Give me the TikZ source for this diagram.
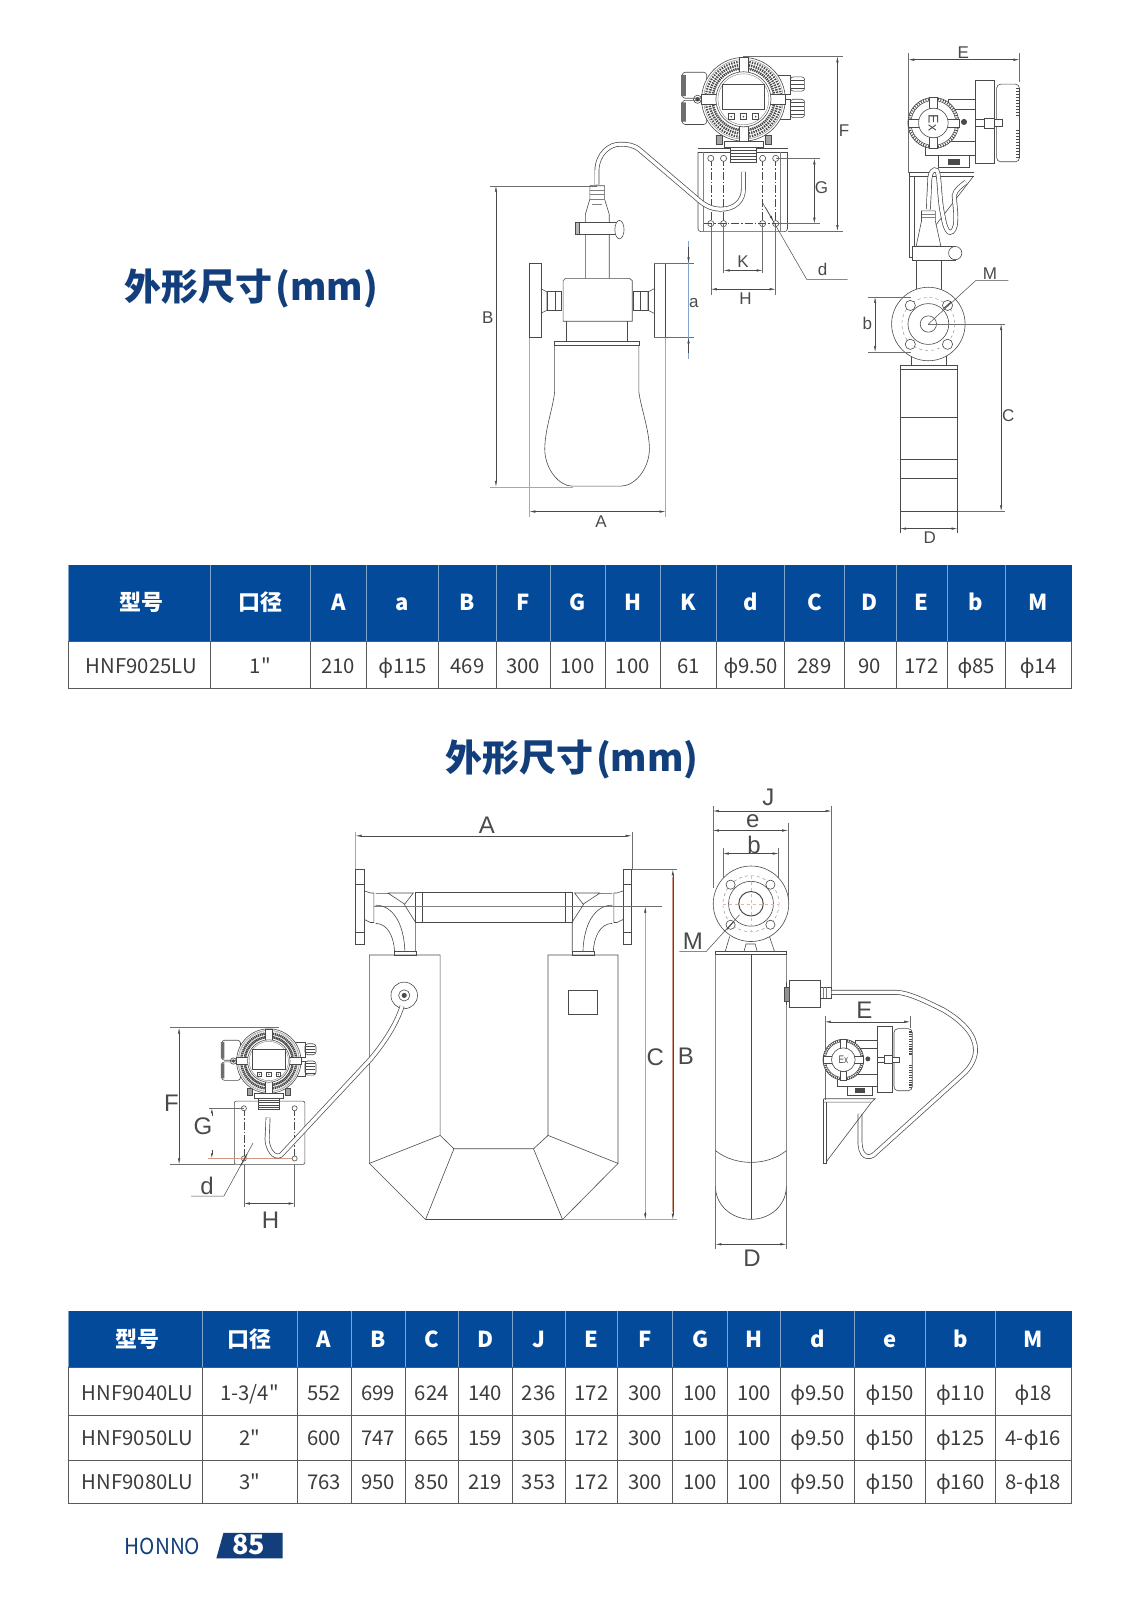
\documentclass[tikz,border=0pt]{standalone}
\usepackage{fontspec}
\setmainfont[Ligatures=TeXOff]{Noto Sans CJK SC}
\newfontfamily\arialfont{Liberation Sans}
\newfontfamily\grkfont{Noto Sans}
\usetikzlibrary{arrows.meta}
\definecolor{linecol}{HTML}{4A4A4A}
\definecolor{extcol}{HTML}{D29A84}
\definecolor{headblue}{HTML}{034A9B}
\definecolor{titleblue}{HTML}{123F7C}
\definecolor{cellcol}{HTML}{3C3C3C}
\definecolor{gridcol}{HTML}{5A5A5A}
\newcommand{\phic}{{\grkfont ϕ}}
\tikzset{
  outl/.style={draw=linecol, line width=0.6pt},
  thinl/.style={draw=linecol!70, line width=0.4pt},
  extl/.style={draw=extcol, line width=0.5pt},
  dimext/.style={draw=linecol!80, line width=0.4pt},
  dimln/.style={draw=linecol, line width=0.5pt, <->, >={Latex[length=6pt,width=2.4pt]}},
  centl/.style={draw=linecol, line width=0.4pt, dash pattern=on 8pt off 2pt on 1.5pt off 2pt},
  cablel/.style={draw=linecol, line width=0.7pt, double=white, double distance=3.4pt},
  smalllab/.style={font=\arialfont\fontsize{17}{18}\selectfont, text=linecol, inner sep=0pt},
  biglab/.style={font=\arialfont\fontsize{24}{26}\selectfont, text=linecol, inner sep=0pt},
  titlelab/.style={font=\bfseries\fontsize{37}{40}\selectfont, text=titleblue, inner sep=0pt},
  headlab/.style={font=\bfseries\fontsize{22}{26}\selectfont, text=white, inner sep=0pt, anchor=base},
  celllab/.style={font=\fontsize{20.3}{24}\selectfont, text=cellcol, inner sep=0pt, anchor=base},
  transfront/.pic={
    % cover boxes and glands behind the head
    \draw[outl,fill=white,rounded corners=3pt] (-60,-26.5) rectangle (-36,-1);
    \draw[outl,fill=white,rounded corners=3pt] (-60,1) rectangle (-36,24.7);
    \fill[linecol!80] (-61,-24) rectangle (-56.5,-3) (-61,3) rectangle (-56.5,22);
    \draw[outl,fill=white] (34,-24) rectangle (46,-5) (34,0) rectangle (46,20);
    \foreach \gy in {-19,-15,-11,3,7,11,15}
      \draw[outl] (47,\gy) -- (59,\gy);
    \draw[outl,rounded corners=3pt] (46,-22) rectangle (60,-8) (46,0) rectangle (60,18);
    % neck under the head
    \draw[outl,fill=linecol!50] (-27,35) rectangle (-21,44) (21,35) rectangle (27,44);
    \draw[outl,fill=white] (-19,41) rectangle (19,47);
    \draw[outl,fill=white] (-13,47) rectangle (13,62);
    \foreach \gy in {50,53,56,59} \draw[outl] (-13,\gy) -- (13,\gy);
    % head with its ring of fins
    \draw[outl,fill=white] (0,0) circle (41);
    \draw[thinl] (0,0) circle (39);
    \foreach \ang in {0,4,...,356}
      \draw[draw=linecol, line width=1.4pt, dash pattern=on 2.5pt off 1pt] (\ang:29) -- (\ang:38);
    \foreach \ang in {0,90,180,270}
      \draw[outl,fill=white,rotate=\ang] (25,-4.5) rectangle (41,4.5);
    \draw[outl,fill=white] (0,0) circle (27);
    \draw[thinl] (0,0) circle (25);
    \draw[outl,fill=white] (-20.5,-15) rectangle (20.5,10);
    \foreach \bx in {-12,0,12} {
      \draw[outl] (\bx-3,14) rectangle (\bx+3,20);
      \fill[linecol] (\bx,17) circle (0.9);
    }
    \fill[linecol] (-45,0) circle (2.2);
    \draw[outl] (-45,0) circle (4);
  },
  transside/.pic={
    % column and cap
    \draw[outl,fill=white,rounded corners=4pt] (62,-38) rectangle (84.4,38);
    \foreach \ty in {-34,-31,...,-7,7,10,...,34}
      \draw[draw=linecol, line width=1.2pt] (81,\ty) -- (84.4,\ty);
    \draw[outl,fill=white] (41.5,-41.5) rectangle (60,39.5);
    \draw[outl,fill=white] (-8,18) rectangle (41.5,32);
    \draw[outl,fill=white] (5,32) rectangle (35,43);
    \fill[linecol] (14,35) rectangle (26,41);
    \draw[outl,fill=white] (15,-23.5) rectangle (41.5,-13.5);
    \draw[outl,fill=white] (41.5,-3.5) rectangle (68,3.5);
    \draw[outl,fill=white] (50,-5) rectangle (60,5);
    \fill[linecol] (30,-1) circle (3);
    % head seen from the side
    \draw[outl,fill=white] (0,0) circle (25);
    \foreach \ang in {0,6,...,354}
      \draw[draw=linecol, line width=0.9pt] (\ang:22.5) -- (\ang:25);
    \draw[outl,fill=white] (0,0) circle (22);
    \foreach \ang in {0,90,180,270}
      \draw[outl,fill=white,rotate=\ang] (14,-4) rectangle (25,4);
    \draw[outl,fill=white] (0,0) circle (14.5);
  }
}
\begin{document}
\begin{tikzpicture}[x=1.0205pt, y=-1.0205pt]
  \useasboundingbox (0,0) rectangle (1117.1,1567.85);
  \node[titlelab, anchor=west] (titleone) at (122,283) {外形尺寸\hspace{3pt}(mm)};
  \node[titlelab, anchor=west] (titletwo) at (436,744) {外形尺寸\hspace{3pt}(mm)};

  % upper drawing, meter from the front
  \draw[extl] (518.7,258) -- (518.7,507) (652.2,258) -- (652.2,507);
  \draw[extl] (480,477) -- (561,477);
  \draw[outl,fill=white] (518.7,258) rectangle (530,330.7);
  \draw[outl,fill=white] (640.9,258) rectangle (652.2,330.7);
  \draw[outl] (530,283) -- (536,286) -- (536,304) -- (530,307);
  \draw[outl] (640.9,283) -- (635,286) -- (635,304) -- (640.9,307);
  \draw[outl] (536,285) rectangle (550,304) (544,285) -- (544,304);
  \draw[outl] (621,285) rectangle (635,304) (627,285) -- (627,304);
  \draw[outl,fill=white] (554,272.8) -- (617,272.8) -- (619.5,275) -- (619.5,314.8) -- (551.8,314.8) -- (551.8,275) -- cycle;
  \draw[outl] (555,314.8) -- (555,334) (615,314.8) -- (615,334);
  \draw[outl] (543.5,334.7) rectangle (626,338);
  \draw[outl] (543.5,338) -- (543.5,383.7) .. controls (542,400) and (534,420) .. (533.8,440)
    .. controls (534,460) and (548,476.4) .. (561,476.4) -- (608,476.4)
    .. controls (622,476.4) and (636,460) .. (636.4,440)
    .. controls (636,420) and (628,400) .. (626,383.7) -- (626,338);
  \draw[outl] (573.6,272.8) -- (573.6,210) -- (578,195) -- (578,182) -- (592.4,182) -- (592.4,195) -- (597,210) -- (597,272.8);
  \draw[thinl] (578,186) -- (592.4,186) (578,190) -- (592.4,190) (578,195) -- (592.4,195) (580,200) -- (590,200);
  \draw[outl,fill=white] (563.8,218) rectangle (604,230);
  \draw[outl,fill=linecol!40] (563.8,218) rectangle (568,230);
  \draw[outl,fill=white] (607,225) ellipse (4.5 and 9);

  % upper drawing, bracket, cable and transmitter
  \draw[outl] (684,145.3) -- (771.7,145.3) (684,149) -- (771.7,149);
  \draw[outl,rounded corners=3pt] (684,149) -- (684,227) -- (771.7,227) -- (771.7,149);
  \draw[thinl] (689,149) -- (689,227) (765,149) -- (765,227);
  \foreach \hx in {696.5,709,747.3,760.1} {
    \draw[centl] (\hx,155.2) -- (\hx,219.1);
    \draw[outl,fill=white] (\hx,155.2) circle (3);
    \draw[outl,fill=white] (\hx,219.1) circle (3);
  }
  \draw[centl] (690,219.1) -- (767,219.1);
  \draw[cablel] (584.9,181) -- (584.9,168) .. controls (585,150) and (598,141) .. (608,141.3)
    .. controls (615,141.3) and (621,142) .. (627,147) -- (683.4,195)
    .. controls (692,203) and (700,205) .. (706,205)
    .. controls (720,205) and (728.5,197) .. (728.5,185) -- (728.5,168.5);
  \pic at (728.5,97.3) {transfront};

  % upper drawing, meter from the side
  \draw[dimext] (890,52) -- (890,170) (999,52) -- (999,80);
  \pic at (914.6,120.5) {transside};
  \draw[outl] (892,169) -- (954,169) (892,172.5) -- (954,172.5);
  \draw[outl] (890.9,169) -- (890.9,252) (895.8,172.5) -- (895.8,252) (890.9,252) -- (895.8,252);
  \draw[outl] (954,172.5) -- (895.8,248);
  \draw[cablel] (909.7,205) -- (911,178) .. controls (911,168) and (915,165) .. (918,167)
    .. controls (921,172) and (920,195) .. (924,211.5) .. controls (926,225) and (930,230) .. (933,227)
    .. controls (939,222) and (936,205) .. (935,191.7) .. controls (936,186) and (942,182) .. (946.5,178.4);
  \draw[outl,fill=white] (903,206.6) -- (916.5,206.6) -- (916.5,216.5) -- (922,241.3) -- (897.7,241.3) -- (903,216.5) -- cycle;
  \draw[thinl] (903,210) -- (916.5,210) (903,213) -- (916.5,213);
  \draw[outl,fill=white] (897.7,254.6) rectangle (922,292);
  \draw[outl,fill=white] (894,241.3) rectangle (936,254.6);
  \draw[outl,fill=white] (936,248) circle (6.5);
  \draw[outl] (892.5,358.2) -- (892.5,345) (927,358.2) -- (927,345);
  \draw[outl,fill=white] (909.7,317.5) circle (36);
  \draw[thinl,dashed] (909.7,317.5) circle (26);
  \draw[outl] (909.7,317.5) circle (20);
  \draw[outl] (909.7,317.5) circle (8);
  \foreach \bx/\by in {892/299.3,928.5/299.3,892/337.4,928.5/337.4}
    \draw[outl,fill=white] (\bx,\by) circle (5);
  \draw[outl] (881.9,358.2) rectangle (938.3,361.5);
  \draw[outl] (881.9,361.5) -- (881.9,522) (938.3,361.5) -- (938.3,522);
  \draw[outl] (881.9,409.2) -- (938.3,409.2) (881.9,450) -- (938.3,450) (881.9,469) -- (938.3,469) (881.9,501) -- (938.3,501);

  % upper drawing, dimensions
  \draw[dimln] (518.7,501.3) -- (652.2,501.3);
  \node[smalllab] (dimA) at (589,511) {A};
  \draw[dimext] (480,182) -- (585,182);
  \draw[dimln] (486,182) -- (486,477);
  \node[smalllab] (dimB) at (478,311) {B};
  \draw[dimext] (640.9,258) -- (680,258) (640.9,330.7) -- (680,330.7);
  \draw[draw=headblue!50, line width=0.4pt] (674.7,236.4) -- (674.7,352.2);
  \draw[draw=linecol, line width=0.5pt, ->, >={Latex[length=6pt,width=2.4pt]}] (674.7,242) -- (674.7,258);
  \draw[draw=linecol, line width=0.5pt, ->, >={Latex[length=6pt,width=2.4pt]}] (674.7,346) -- (674.7,330.7);
  \node[smalllab] (dima) at (680,297) {a};
  \draw[dimext] (728,55.2) -- (826,55.2) (771.7,226.4) -- (826,226.4);
  \draw[dimln] (820.6,55.2) -- (820.6,226.4);
  \node[smalllab] (dimF) at (827,128) {F};
  \draw[dimext] (760,155.2) -- (804,155.2) (760,219.1) -- (804,219.1);
  \draw[dimln] (798,155.2) -- (798,219.1);
  \node[smalllab] (dimG) at (805,184) {G};
  \draw[dimext] (696.5,219.1) -- (696.5,289) (709,219.1) -- (709,268) (747.3,219.1) -- (747.3,268) (760.1,219.1) -- (760.1,289);
  \draw[dimln] (709,265) -- (747.3,265);
  \node[smalllab] (dimK) at (728,256) {K};
  \draw[dimln] (696.5,283.4) -- (760.1,283.4);
  \node[smalllab] (dimH) at (730.5,293) {H};
  \draw[draw=linecol, line width=0.5pt] (747,198.3) -- (790.5,273.8) -- (830.7,273.8);
  \draw[draw=linecol, line width=0.5pt, ->, >={Latex[length=6pt,width=2.4pt]}] (750,203) -- (758,217);
  \node[smalllab] (dimd) at (806,264) {d};
  \draw[dimln] (890,58.5) -- (999,58.5);
  \node[smalllab] (dimE) at (944,52) {E};
  \draw[dimext] (851,291) -- (893,291) (851,345) -- (893,345);
  \draw[dimln] (857.5,291) -- (857.5,345);
  \node[smalllab] (dimb) at (850,317) {b};
  \draw[dimext] (909.7,317.5) -- (985,317.5) (938.3,501) -- (985,501);
  \draw[dimln] (981,317.5) -- (981,501);
  \node[smalllab] (dimC) at (988,407) {C};
  \draw[dimln] (881.9,518) -- (938.3,518);
  \node[smalllab] (dimD) at (911,527) {D};
  \draw[draw=linecol, line width=0.5pt] (909.7,317.5) -- (956,275) -- (988,275);
  \draw[draw=linecol, line width=1pt] (925,302) -- (932,296);
  \node[smalllab] (dimM) at (970,268) {M};

  % upper table
  \fill[headblue] (67,554) rectangle (1050,628);
  \foreach \xa/\xb/\hd/\va [count=\i] in {67/206/型号/HNF9025LU, 206/304/口径/1", 304/359/A/210, 359/430/a/\phic115,
    430/486/B/469, 486/539/F/300, 539/593/G/100, 593/647/H/100, 647/702/K/61, 702/769/d/\phic9.50,
    769/827/C/289, 827/878/D/90, 878/928/E/172, 928/985/b/\phic85, 985/1050/M/\phic14} {
    \draw[draw=headblue!50!white, line width=0.7pt] (\xa,554) -- (\xa,628);
    \draw[draw=gridcol, line width=0.7pt] (\xa,628) rectangle (\xb,675);
    \node[headlab] (tophd\i) at ({(\xa+\xb)/2+(\i==1)*2},598) {\hd};
    \node[celllab] (topval\i) at ({(\xa+\xb)/2+(\i==1)*2},660) {\va};
  }

  % lower drawing, meter from the front
  \draw[extl] (348.5,815) -- (348.5,851.8);
  \draw[dimext] (619,815) -- (619,851.8);
  \draw[outl,fill=white] (348.5,851.8) rectangle (357,925.4);
  \draw[outl,fill=white] (610.6,851.8) rectangle (619,925.4);
  \draw[outl] (348.5,866.5) -- (357,866.5) (348.5,914) -- (357,914) (610.6,866.5) -- (619,866.5) (610.6,914) -- (619,914);
  \draw[outl] (357,873) -- (363,875) -- (366.4,875) -- (366.4,904) -- (363,904) -- (357,901);
  \draw[outl] (610.6,873) -- (604.5,875) -- (601.5,875) -- (601.5,904) -- (604.5,904) -- (610.6,901);
  \draw[outl] (407,874) rectangle (560.7,903.5);
  \draw[outl] (413.7,874) -- (413.7,903.5) (553.9,874) -- (553.9,903.5);
  \draw[thinl] (366.4,888.4) -- (601.5,888.4);
  \draw[outl] (368,875.7) -- (380,875.7) (380,875) -- (405,875) -- (396.6,886) -- (380,875);
  \draw[outl] (600,875.7) -- (588,875.7) (588,875) -- (563,875) -- (571.4,886) -- (588,875);
  \draw[outl] (368,904.8) .. controls (380,905) and (386,918) .. (386.7,933);
  \draw[outl] (368,887) .. controls (385,887) and (396,905) .. (396.8,933);
  \draw[outl] (396,886) -- (407,903.5) (407,903.5) -- (407,933);
  \draw[outl] (600,904.8) .. controls (588,905) and (582,918) .. (581.3,933);
  \draw[outl] (600,887) .. controls (583,887) and (572,905) .. (571.2,933);
  \draw[outl] (572,886) -- (560.7,903.5) (560.7,903.5) -- (560.7,933);
  \draw[outl] (386,932.5) rectangle (407.6,935.8) (560.7,932.5) rectangle (582.3,935.8);
  \draw[outl] (362,935.8) -- (431.3,935.8) -- (431.3,1112.6) -- (362,1140) -- cycle;
  \draw[outl] (537,935.8) -- (605.6,935.8) -- (605.6,1140) -- (537,1112.6) -- cycle;
  \draw[outl] (362,1140) -- (417,1195) -- (551.2,1195) -- (605.6,1140);
  \draw[outl] (431.3,1112.6) -- (444.8,1125.7) -- (522.8,1125.7) -- (537,1112.6);
  \draw[outl] (444.8,1125.7) -- (417,1195) (522.8,1125.7) -- (551.2,1195);
  \draw[outl] (557.3,970.8) rectangle (585.3,994.3);
  \draw[outl] (396.1,975.4) circle (13);
  \draw[outl] (396.1,975.4) circle (5.5);
  \fill[linecol] (396.1,975.4) circle (2.5);

  % lower drawing, small transmitter
  \draw[outl,rounded corners=2pt] (229.6,1079) rectangle (298.8,1141);
  \foreach \hx in {239,288.7} {
    \draw[centl] (\hx,1086) -- (\hx,1135.2);
    \draw[outl,fill=white] (\hx,1086) circle (2.5);
    \draw[outl,fill=white] (\hx,1135.2) circle (2.5);
  }
  \draw[extl] (204,1135.2) -- (286,1135.2);
  \draw[cablel] (394,986) .. controls (389,1002) and (378,1020) .. (363,1038) -- (275.2,1132)
    .. controls (268,1136) and (262,1125) .. (261.7,1116.5) -- (262.7,1095);
  \pic[scale=0.77] at (263.4,1039.7) {transfront};

  % lower drawing, meter from the side
  \draw[dimext] (698.5,790) -- (698.5,870) (708.3,830.8) -- (708.3,901) (763,830.8) -- (763,885) (772.3,806) -- (772.3,885) (814.9,790) -- (814.9,967);
  \draw[outl] (715,917.7) -- (710.6,932.5) (754,917.7) -- (759,932.5);
  \draw[outl] (731,925) -- (740,925) -- (742,932.5) -- (729,932.5) -- cycle;
  \draw[outl,fill=white] (735.9,885.6) circle (37);
  \draw[thinl,dashed] (735.9,885.6) circle (27.5);
  \draw[outl] (735.9,885.6) circle (22);
  \draw[outl,line width=1pt] (735.9,885.6) circle (12);
  \draw[draw=extcol!70, line width=0.4pt, dashed] (708,885.6) -- (763,885.6) (735.9,858) -- (735.9,913);
  \foreach \bx/\by in {715.9/866.9,754.9/866.9,715.9/906.2,754.9/906.2}
    \draw[outl,fill=white] (\bx,\by) circle (4.5);
  \draw[outl] (701,932.5) rectangle (770.6,935);
  \draw[outl] (701,935) -- (701,1162) .. controls (701,1182) and (718,1194.8) .. (735.9,1194.8)
    .. controls (754,1194.8) and (770.6,1182) .. (770.6,1162) -- (770.6,935);
  \draw[outl] (701,1127.5) .. controls (712,1136) and (725,1139) .. (735.9,1139) .. controls (747,1139) and (760,1136) .. (770.6,1127.5);
  \draw[outl] (735.9,935) -- (735.9,1194.8);
  \draw[outl] (770.6,962) -- (770.6,985);
  \draw[outl,fill=linecol!60] (769,967) rectangle (773.9,981);
  \draw[outl,fill=white] (773.9,960.3) rectangle (803.4,987.5);
  \draw[outl,fill=white] (803.4,967) rectangle (814.9,978.4);
  \draw[thinl] (807,967) -- (807,978.4) (810,967) -- (810,978.4);
  \draw[cablel] (814.9,972.4) -- (878.8,972.4) .. controls (890,973) and (905,980) .. (924.7,989.8)
    .. controls (945,1002) and (956,1015) .. (955.9,1029)
    .. controls (956,1037) and (951,1046) .. (944.4,1052) -- (859,1129)
    .. controls (855,1134) and (850,1134) .. (847.7,1132.5)
    .. controls (844,1130) and (842.7,1125) .. (842.7,1117.7) -- (842.7,1091.5);
  \draw[dimext] (808.3,996) -- (808.3,1078) (891.9,996) -- (891.9,1007);
  \pic[scale=0.8] at (826.4,1038.4) {transside};
  \node[inner sep=0pt, font=\arialfont\fontsize{11}{12}\selectfont, text=linecol, xscale=0.75] (exone) at (826.4,1038.4) {Ex};
  \node[inner sep=0pt, font=\arialfont\fontsize{14}{15}\selectfont, text=linecol, rotate=-90] (extwo) at (914.6,120.5) {Ex};
  \draw[outl] (807.3,1076.7) -- (857.5,1076.7) -- (854,1080) -- (807.3,1080);
  \draw[outl] (807,1076.7) -- (807,1140) -- (810,1140) -- (810,1080);
  \draw[outl] (854,1080) -- (810,1138);

  % lower drawing, dimensions
  \draw[dimln] (348.5,819) -- (619,819);
  \node[biglab] (lowA) at (477,809) {A};
  \draw[dimext] (619,852) -- (663,852);
  \draw[dimext] (601.5,888.4) -- (649,888.4);
  \draw[extl] (551.2,1195) -- (663,1195);
  \draw[dimln] (659.3,852) -- (659.3,1195);
  \draw[dimln] (632.3,888.4) -- (632.3,1195);
  \draw[draw=extcol, line width=0.9pt] (659.3,859) -- (659.3,1188) (632.3,895) -- (632.3,1188);
  \node[biglab] (lowC) at (642,1036) {C};
  \node[biglab] (lowB) at (672,1035) {B};
  \draw[dimext] (167,1007) -- (273,1007) (167,1141) -- (230,1141);
  \draw[dimln] (175.5,1007) -- (175.5,1141);
  \node[biglab] (lowF) at (168,1081) {F};
  \draw[dimext] (205,1086) -- (239,1086);
  \draw[draw=linecol, line width=0.5pt, <-, >={Latex[length=5pt,width=2.2pt]}] (207.6,1086) -- (207.6,1094);
  \draw[draw=linecol, line width=0.5pt, <-, >={Latex[length=5pt,width=2.2pt]}] (207.6,1135) -- (207.6,1127);
  \node[biglab] (lowG) at (199,1104) {G};
  \draw[dimext] (239,1141) -- (239,1183) (288.7,1141) -- (288.7,1183);
  \draw[dimln] (239,1179.3) -- (288.7,1179.3);
  \node[biglab] (lowH) at (265,1196) {H};
  \draw[draw=linecol, line width=0.5pt] (248,1120) -- (219.4,1172) -- (187.3,1172);
  \draw[draw=linecol, line width=1pt] (242,1131) -- (236,1142);
  \node[biglab] (lowd) at (203,1162) {d};
  \draw[dimln] (698.5,794.7) -- (814.9,794.7);
  \node[biglab] (lowJ) at (753,781) {J};
  \draw[dimln] (698.5,813.8) -- (772.3,813.8);
  \node[biglab] (lowe) at (737.6,805) {e};
  \draw[dimln] (708.3,836.4) -- (763,836.4);
  \node[biglab] (lowb) at (739,828) {b};
  \draw[draw=linecol, line width=0.5pt] (724.7,896.4) -- (691.9,932.5) -- (665.7,932.5);
  \draw[draw=linecol, line width=1pt] (719,903) -- (712,911);
  \node[biglab] (lowM) at (679,922) {M};
  \draw[dimext] (701,1162) -- (701,1224) (770.6,1162) -- (770.6,1224);
  \draw[dimln] (701,1219.3) -- (770.6,1219.3);
  \node[biglab] (lowD) at (737,1233) {D};
  \draw[dimln] (808.3,1001.3) -- (891.9,1001.3);
  \node[biglab] (lowE) at (847,990) {E};

  % lower table
  \fill[headblue] (67,1285) rectangle (1050,1340);
  \foreach \xa/\xb/\hd/\va/\vb/\vc [count=\i] in {
    67/198/型号/HNF9040LU/HNF9050LU/HNF9080LU, 198/291/口径/{1-3/4"}/2"/3",
    291/344/A/552/600/763, 344/397/B/699/747/950, 397/449/C/624/665/850, 449/502/D/140/159/219,
    502/554/J/236/305/353, 554/605/E/172/172/172, 605/659/F/300/300/300, 659/713/G/100/100/100,
    713/765/H/100/100/100, 765/837/d/\phic9.50/\phic9.50/\phic9.50, 837/907/e/\phic150/\phic150/\phic150,
    907/975/b/\phic110/\phic125/\phic160, 975/1050/M/\phic18/4-\phic16/8-\phic18} {
    \draw[draw=headblue!50!white, line width=0.7pt] (\xa,1285) -- (\xa,1340);
    \draw[draw=gridcol, line width=0.7pt] (\xa,1340) rectangle (\xb,1387) (\xa,1387) rectangle (\xb,1431) (\xa,1431) rectangle (\xb,1473);
    \node[headlab] (lowhd\i) at ({(\xa+\xb)/2+(\i==1)*2},1320) {\hd};
    \node[celllab] (lowvala\i) at ({(\xa+\xb)/2+(\i==1)*2},1372) {\va};
    \node[celllab] (lowvalb\i) at ({(\xa+\xb)/2+(\i==1)*2},1416) {\vb};
    \node[celllab] (lowvalc\i) at ({(\xa+\xb)/2+(\i==1)*2},1460) {\vc};
  }

  % footer
  \node[inner sep=0pt, anchor=west, text=titleblue, font=\fontsize{22}{24}\selectfont, xscale=0.94] (brand) at (122,1515) {HONNO};
  \fill[titleblue] (219,1502) -- (277,1502) -- (277,1527) -- (212,1527) -- cycle;
  \node[inner sep=0pt, text=white, font=\bfseries\fontsize{27}{29}\selectfont] (pagenum) at (243.5,1514) {85};
\end{tikzpicture}
\end{document}
